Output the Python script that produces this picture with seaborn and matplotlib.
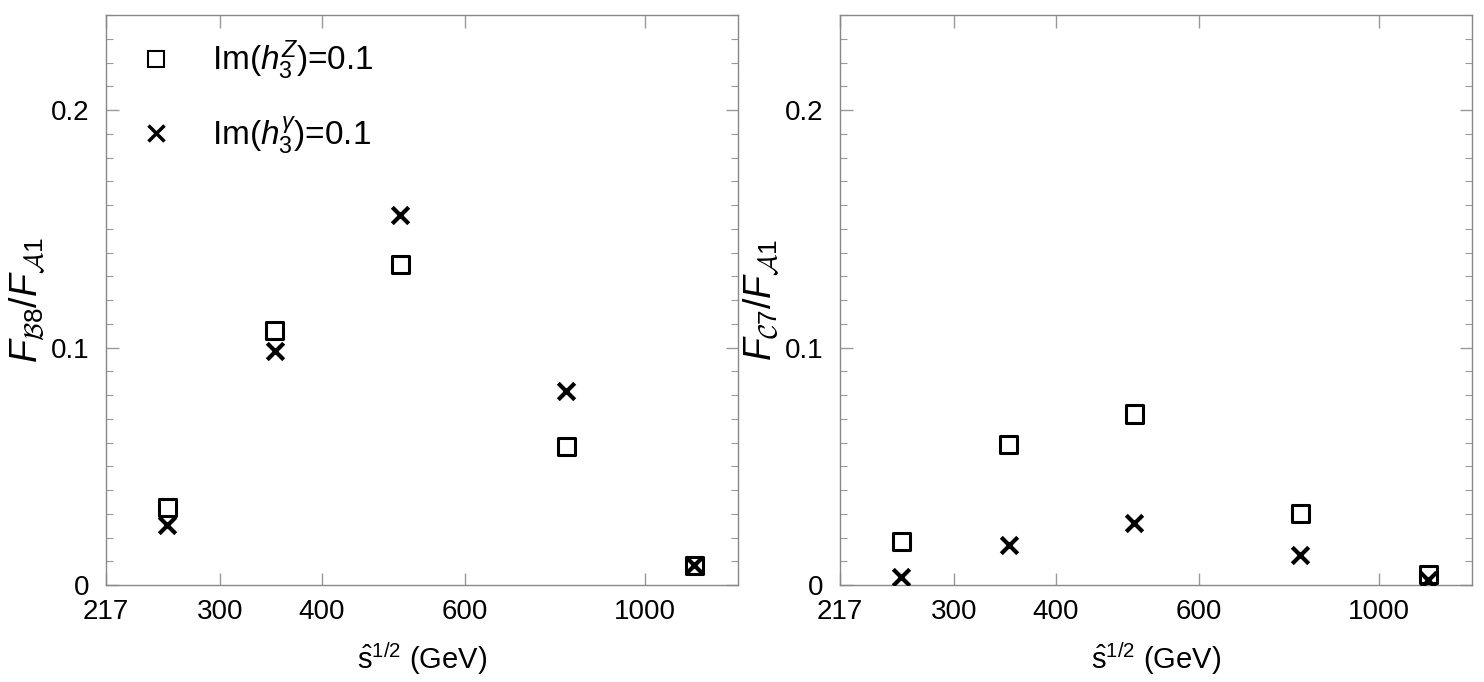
import pandas as pd
import seaborn as sns
import matplotlib.pyplot as plt
import matplotlib.ticker as mticker
from matplotlib.lines import Line2D

# Data
sqrt_s = [258, 350, 500, 800, 1150]

b8_hz = [0.0328, 0.107, 0.135, 0.0585, 0.0084]
b8_hg = [0.0253, 0.0985, 0.156, 0.0817, 0.0084]

c7_hz = [0.0185, 0.059, 0.072, 0.030, 0.0046]
c7_hg = [0.0034, 0.0168, 0.026, 0.0126, 0.0020]

x_ticks = [217, 300, 400, 600, 1000]
y_ticks = [0, 0.1, 0.2]
y_tick_labels = ['0', '0.1', '0.2']

sns.set_style('ticks')
plt.rcParams['font.family'] = ['Liberation Sans', 'DejaVu Sans']
plt.rcParams['mathtext.fontset'] = 'custom'
plt.rcParams['mathtext.rm'] = 'Liberation Sans'
plt.rcParams['mathtext.it'] = 'Liberation Sans:italic'
plt.rcParams['mathtext.cal'] = 'cmsy10'
plt.rcParams['text.color'] = 'black'
plt.rcParams['axes.labelcolor'] = 'black'
plt.rcParams['xtick.labelcolor'] = 'black'
plt.rcParams['ytick.labelcolor'] = 'black'

fig = plt.figure(figsize=(14.84, 6.82), dpi=100)
ax1 = fig.add_axes([106 / 1484, 97 / 682, 632 / 1484, 570 / 682])
ax2 = fig.add_axes([840 / 1484, 97 / 682, 632 / 1484, 570 / 682])

panels = [
    (ax1, b8_hz, b8_hg, r'$F_{\mathcal{B}8}/F_{\mathcal{A}1}$'),
    (ax2, c7_hz, c7_hg, r'$F_{\mathcal{C}7}/F_{\mathcal{A}1}$'),
]

for ax, hz, hg, ylab in panels:
    df_z = pd.DataFrame({'x': sqrt_s, 'y': hz})
    df_g = pd.DataFrame({'x': sqrt_s, 'y': hg})
    ax.set_xscale('log')
    sns.scatterplot(data=df_z, x='x', y='y', ax=ax, marker='s', s=150,
                    facecolor='none', edgecolor='black', linewidth=2.2, zorder=3)
    sns.scatterplot(data=df_g, x='x', y='y', ax=ax, marker='x', s=140,
                    color='black', linewidth=3, zorder=4)

    ax.set_xlim(217, 1302)
    ax.set_ylim(0, 0.24)
    ax.xaxis.set_major_locator(mticker.FixedLocator(x_ticks))
    ax.xaxis.set_major_formatter(mticker.FixedFormatter([str(t) for t in x_ticks]))
    ax.xaxis.set_minor_locator(mticker.NullLocator())
    ax.set_yticks(y_ticks)
    ax.set_yticklabels(y_tick_labels)
    ax.yaxis.set_minor_locator(mticker.MultipleLocator(0.01))

    ax.tick_params(axis='both', which='both', direction='in', top=True, right=True,
                   color='#999999', labelsize=20)
    ax.tick_params(axis='x', which='major', length=9, width=1, pad=10)
    ax.tick_params(axis='y', which='major', length=9, width=1, pad=12)
    ax.tick_params(axis='y', which='minor', length=5, width=0.8)
    for sp in ax.spines.values():
        sp.set_color('#888888')
        sp.set_linewidth(1)

    ax.set_xlabel(r'$\hat{\mathrm{s}}^{1/2}$ (GeV)', fontsize=21, labelpad=11)
    ax.set_ylabel(ylab, fontsize=27, labelpad=2)

handles = [
    Line2D([], [], linestyle='none', marker='s', markersize=11,
           markerfacecolor='none', markeredgecolor='black', markeredgewidth=1.5),
    Line2D([], [], linestyle='none', marker='x', markersize=11,
           color='black', markeredgewidth=2.5),
]
labels = [r'Im($h_3^Z$)=0.1', r'Im($h_3^{\gamma}$)=0.1']
ax1.legend(handles, labels, loc='upper left', frameon=False, fontsize=24,
           handlelength=1.0, handletextpad=1.2, labelspacing=0.95,
           borderaxespad=0.4, bbox_to_anchor=(0.01, 1.005))

plt.savefig('out.png', dpi=100)
